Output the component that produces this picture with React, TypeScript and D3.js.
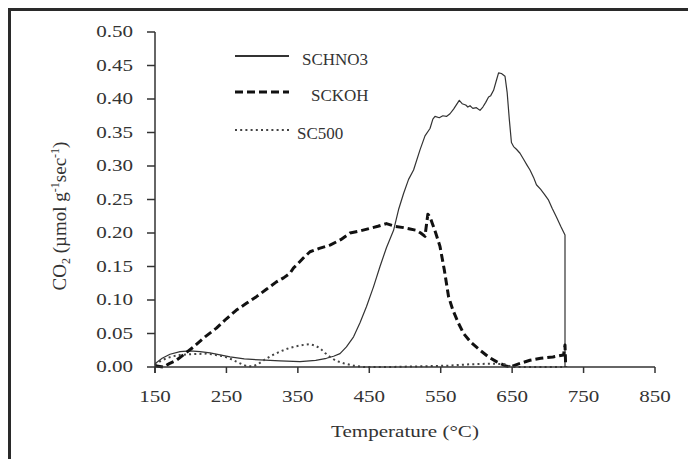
import React from "react";
import * as d3 from "d3";

const xTicks = [150, 250, 350, 450, 550, 650, 750, 850];
const yTicks = [0, 0.05, 0.1, 0.15, 0.2, 0.25, 0.3, 0.35, 0.4, 0.45, 0.5];

const seriesNames = ["SCHNO3", "SCKOH", "SC500"];

const hno3T = [150, 160, 171, 185, 199, 213, 227, 241, 255, 275, 297, 325, 353, 375, 390, 400, 409, 418, 428, 437, 446, 456, 465, 474, 484, 491, 498, 505, 512, 521, 528, 535, 539, 542, 548, 553, 558, 563, 568, 573, 576, 580, 585, 588, 591, 595, 600, 605, 609, 613, 617, 620, 624, 628, 631, 635, 640, 643, 646, 649, 652, 656, 661, 666, 671, 675, 680, 684, 690, 695, 701, 706, 712, 718, 724, 724];
const hno3V = [0.005, 0.013, 0.019, 0.023, 0.024, 0.023, 0.021, 0.018, 0.015, 0.012, 0.0105, 0.009, 0.008, 0.01, 0.013, 0.016, 0.02, 0.03, 0.045, 0.066, 0.09, 0.12, 0.15, 0.178, 0.204, 0.235, 0.259, 0.28, 0.294, 0.324, 0.345, 0.356, 0.37, 0.374, 0.372, 0.375, 0.374, 0.378, 0.385, 0.393, 0.398, 0.393, 0.391, 0.388, 0.39, 0.386, 0.387, 0.383, 0.388, 0.395, 0.403, 0.405, 0.413, 0.428, 0.439, 0.438, 0.434, 0.41, 0.37, 0.335, 0.329, 0.325, 0.319, 0.31, 0.301, 0.294, 0.283, 0.272, 0.265, 0.258, 0.249, 0.237, 0.224, 0.21, 0.197, 0.0];

const kohT = [150, 162, 170, 180, 192, 204, 220, 236, 250, 264, 278, 292, 306, 320, 330, 339, 344, 348, 357, 367, 380, 395, 410, 423, 437, 451, 462, 474, 486, 498, 507, 516, 522, 528, 530, 532, 535, 538, 543, 549, 555, 561, 567, 575, 582, 592, 605, 617, 628, 640, 647, 660, 675, 690, 707, 722, 724, 725];
const kohV = [0.002, 0.0, 0.005, 0.01, 0.02, 0.03, 0.045, 0.058, 0.072, 0.085, 0.095, 0.105, 0.116, 0.127, 0.133, 0.14, 0.148, 0.152, 0.162, 0.172, 0.177, 0.182, 0.19, 0.2, 0.203, 0.207, 0.21, 0.214, 0.21, 0.208, 0.206, 0.204, 0.2, 0.195, 0.212, 0.228, 0.224, 0.215, 0.2, 0.18, 0.145, 0.105, 0.085, 0.065, 0.05, 0.037, 0.025, 0.015, 0.008, 0.002, 0.0, 0.005, 0.01, 0.013, 0.015, 0.018, 0.033, 0.0];

const sc500T = [150, 158, 166, 175, 185, 200, 222, 235, 246, 256, 264, 272, 278, 287, 294, 302, 313, 325, 337, 348, 358, 367, 374, 381, 388, 395, 404, 414, 428, 442, 480, 520, 560, 590, 620, 640, 650, 700, 724];
const sc500V = [0.003, 0.009, 0.013, 0.016, 0.018, 0.019, 0.02, 0.018, 0.016, 0.012, 0.008, 0.004, 0.0015, 0.001, 0.004, 0.01, 0.017, 0.023, 0.028, 0.031, 0.033, 0.034, 0.032, 0.028, 0.021, 0.015, 0.009, 0.0055, 0.002, 0.0, 0.0, 0.001, 0.002, 0.004, 0.005, 0.004, 0.0, 0.0, 0.0];

const W = 688;
const H = 459;
const x0 = 155, x1 = 655, yTop = 32, yBot = 367;

export default function App() {
  const x = d3.scaleLinear().domain([150, 850]).range([x0, x1]);
  const y = d3.scaleLinear().domain([0, 0.5]).range([yBot, yTop]);
  const line = d3
    .line<[number, number]>()
    .x((d) => x(d[0]))
    .y((d) => y(d[1]))
    .curve(d3.curveLinear);

  const zip = (t: number[], v: number[]) => t.map((tt, i) => [tt, v[i]] as [number, number]);

  const styles = [
    { stroke: "#333", width: 1.2, dash: "none" },
    { stroke: "#111", width: 3, dash: "8,4" },
    { stroke: "#444", width: 2, dash: "2,3.2" },
  ];
  const data = [zip(hno3T, hno3V), zip(kohT, kohV), zip(sc500T, sc500V)];

  const legendY = [56, 92, 130];
  const legendTextX = [302, 311, 297];
  const textFont = "'Liberation Serif', 'Times New Roman', serif";
  const sx = 1.24;

  return (
    <svg width={W} height={H} style={{ position: "absolute", left: 0, top: 0, background: "#fff" }}>
      <rect x={0} y={0} width={W} height={H} fill="#fff" />
      <path d={`M9.5,${H} V9.5 H${W}`} fill="none" stroke="#2a2a2a" strokeWidth={3} />

      {data.map((d, i) => (
        <path
          key={seriesNames[i]}
          d={line(d) || ""}
          fill="none"
          stroke={styles[i].stroke}
          strokeWidth={styles[i].width}
          strokeDasharray={styles[i].dash}
          strokeLinejoin="round"
        />
      ))}

      <line x1={x0} x2={x0} y1={yTop} y2={yBot + 6} stroke="#333" strokeWidth={1.5} />
      <line x1={x0} x2={x1} y1={yBot} y2={yBot} stroke="#333" strokeWidth={1.5} />
      {yTicks.map((t) => (
        <g key={"y" + t}>
          <line x1={x0 - 8} x2={x0} y1={y(t)} y2={y(t)} stroke="#333" strokeWidth={1.5} />
          <text
            transform={`translate(133,${y(t) + 5}) scale(${sx},1)`}
            textAnchor="end"
            fontFamily={textFont}
            fontSize={17}
            fill="#333"
          >
            {t.toFixed(2)}
          </text>
        </g>
      ))}
      {xTicks.map((t) => (
        <g key={"x" + t}>
          <line x1={x(t)} x2={x(t)} y1={yBot} y2={yBot + 6} stroke="#333" strokeWidth={1.5} />
          <text
            transform={`translate(${x(t)},402) scale(${sx},1)`}
            textAnchor="middle"
            fontFamily={textFont}
            fontSize={17}
            fill="#333"
          >
            {t}
          </text>
        </g>
      ))}

      <text
        transform={`translate(${(x0 + x1) / 2},437) scale(${sx},1)`}
        textAnchor="middle"
        fontFamily={textFont}
        fontSize={17}
        fill="#333"
      >
        Temperature (°C)
      </text>

      <text
        transform="translate(66,216) rotate(-90)"
        textAnchor="middle"
        fontFamily={textFont}
        fontSize={19}
        fill="#333"
      >
        CO
        <tspan fontSize={12} dy={4}>2</tspan>
        <tspan dy={-4}> (µmol g</tspan>
        <tspan fontSize={12} dy={-7}>-1</tspan>
        <tspan dy={7}>sec</tspan>
        <tspan fontSize={12} dy={-7}>-1</tspan>
        <tspan dy={7}>)</tspan>
      </text>

      {seriesNames.map((n, i) => (
        <g key={"lg" + n}>
          <line
            x1={235}
            x2={289}
            y1={legendY[i]}
            y2={legendY[i]}
            stroke={styles[i].stroke}
            strokeWidth={styles[i].width + (i === 0 ? 0.6 : 0)}
            strokeDasharray={styles[i].dash}
          />
          <text x={legendTextX[i]} y={legendY[i] + 9} fontFamily={textFont} fontSize={17} fill="#333">
            {n}
          </text>
        </g>
      ))}
    </svg>
  );
}
